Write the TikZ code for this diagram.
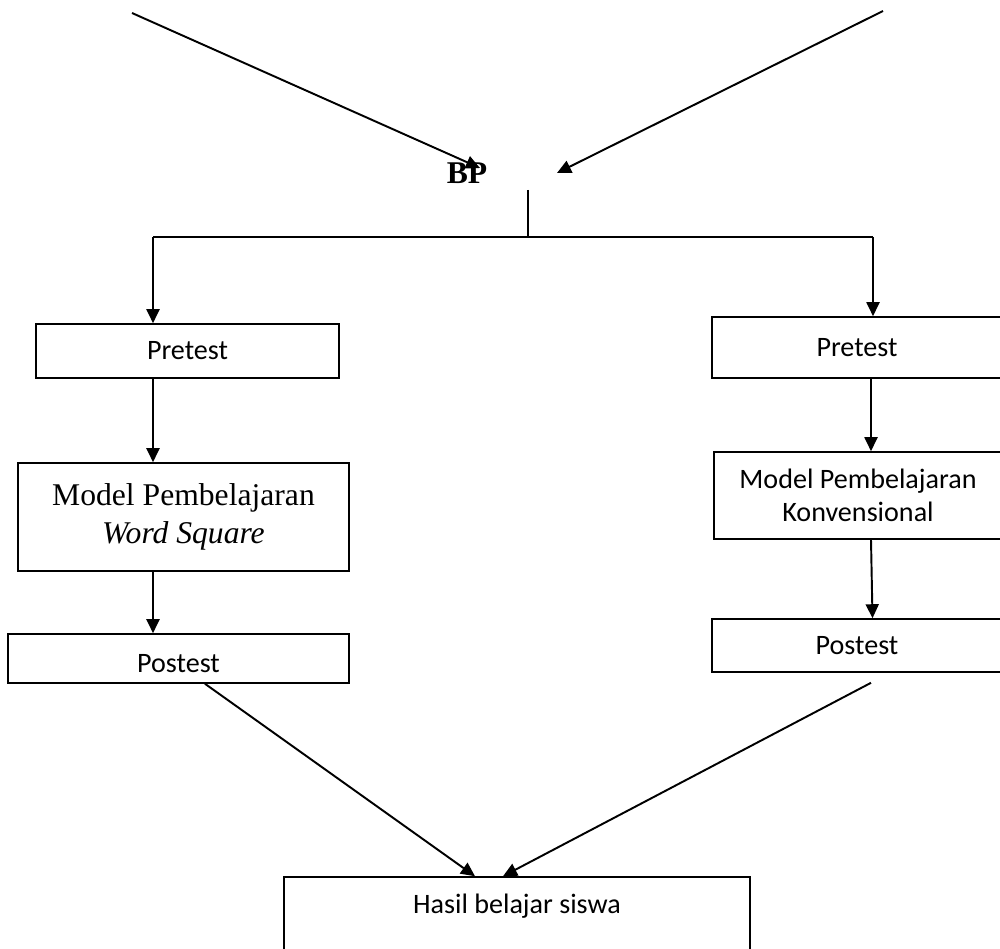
\documentclass[tikz,border=0pt]{standalone}
\usepackage{fontspec}
\setmainfont{Liberation Serif}
\newfontfamily\calib{Carlito}
\usetikzlibrary{arrows.meta,calc}
\tikzset{
  box/.style={draw, line width=0.9pt, inner sep=0pt, align=center},
  sanstext/.style={font=\calib\fontsize{16}{19}\selectfont, align=center},
  seriftext/.style={font=\fontsize{18}{22}\selectfont, align=center},
  conn/.style={line width=1.1pt},
  arr/.style={line width=1.1pt, -{Triangle[length=0.28cm,width=0.26cm]}}
}
\begin{document}
\begin{tikzpicture}[x=0.02cm,y=-0.02cm]
\useasboundingbox (0,0) rectangle (1000,949);
% boxes left
\node[box, sanstext, minimum width=6.06cm, minimum height=1.08cm] (lpre) at (187.5,351) {Pretest};
\node[box, seriftext, minimum width=6.62cm, minimum height=2.16cm] (lmod) at (183.5,517) {Model Pembelajaran\\\textit{Word Square}};
\node[box, minimum width=6.82cm, minimum height=0.98cm] (lpost) at (178.5,658.5) {};
\node[sanstext] (lposttext) at (178.5,664) {Postest};
% boxes right
\node[box, sanstext, minimum width=5.8cm, minimum height=1.22cm] (rpre) at (857,347.5) {Pretest};
\node[box, sanstext, minimum width=5.76cm, minimum height=1.74cm] (rmod) at (858,495.5) {Model Pembelajaran\\Konvensional};
\node[box, sanstext, minimum width=5.8cm, minimum height=1.06cm] (rpost) at (857,645.5) {Postest};
% result box
\node[box, minimum width=9.32cm, minimum height=1.8cm] (res) at (517,922) {};
\node[sanstext] (restext) at (517,906) {Hasil belajar siswa};
% BP
\node[font=\bfseries\fontsize{18}{20}\selectfont, inner sep=0pt] (bp) at (467,173) {BP};
% coordinates
\coordinate (tl) at (132,13);
\coordinate (tlend) at (480,168);
\coordinate (tr) at (883,11);
\coordinate (trend) at (557,173);
\coordinate (stub) at (528,190);
\coordinate (split) at (528,237);
\coordinate (hl) at (153,237);
\coordinate (hr) at (873,237);
% connectors top
\draw[arr] (tl) -- (tlend);
\draw[arr] (tr) -- (trend);
\draw[conn] (stub) -- (split);
\draw[conn] (hl) -- (hr);
% left column
\draw[arr] (hl) -- (hl |- lpre.north);
\draw[arr] (hl |- lpre.south) -- (hl |- lmod.north);
\draw[arr] (hl |- lmod.south) -- (hl |- lpost.north);
% right column
\draw[arr] (hr) -- (hr |- rpre.north);
\draw[arr] ($(rpre.south)+(14,0)$) -- ($(rmod.north)+(13,0)$);
\draw[arr] ($(rmod.south)+(13,0)$) -- ($(rpost.north)+(15.5,0)$);
% to result
\draw[arr] ($(lpost.south)+(26.5,0)$) -- ($(res.north)+(-42,0)$);
\draw[arr] ($(rpost.south)+(14,10)$) -- ($(res.north)+(-14,0)$);
\end{tikzpicture}
\end{document}
